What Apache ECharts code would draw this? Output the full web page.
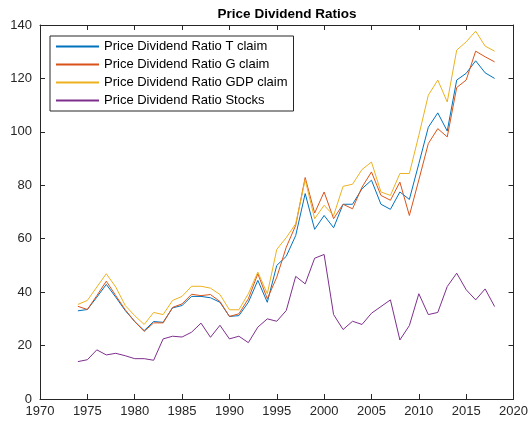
<!DOCTYPE html>
<html>
<head>
<meta charset="utf-8">
<script src="https://cdn.jsdelivr.net/npm/echarts@6/dist/echarts.min.js"></script>
<style>
    html, body { margin: 0; padding: 0; background: #fff; }
    #chart { width: 531px; height: 427px; }
</style>
</head>
<body>
<div id="chart"></div>
<script>
    // yearly values
    var years = [1974, 1975, 1976, 1977, 1978, 1979, 1980, 1981, 1982, 1983,
                 1984, 1985, 1986, 1987, 1988, 1989, 1990, 1991, 1992, 1993,
                 1994, 1995, 1996, 1997, 1998, 1999, 2000, 2001, 2002, 2003,
                 2004, 2005, 2006, 2007, 2008, 2009, 2010, 2011, 2012, 2013,
                 2014, 2015, 2016, 2017, 2018];
    var tClaim = [33.0, 33.5, 38.1, 42.9, 38.1, 33.1, 29.0, 25.6, 29.0, 28.7,
                  34.1, 35.0, 38.4, 38.4, 37.9, 36.2, 30.9, 31.2, 36.2, 44.4,
                  36.2, 50.0, 53.4, 61.2, 76.9, 63.5, 68.7, 64.1, 72.9, 72.9,
                  78.7, 81.9, 72.9, 71.0, 77.5, 74.7, 88.1, 101.7, 107.1, 100.3,
                  119.4, 121.9, 126.6, 122.1, 120.0];
    var gClaim = [34.7, 33.5, 38.7, 44.1, 38.7, 33.4, 29.0, 25.3, 28.5, 28.5,
                  34.3, 35.6, 39.2, 38.7, 39.1, 36.5, 30.9, 31.9, 37.5, 46.9,
                  37.5, 45.6, 56.8, 65.0, 82.9, 69.6, 77.5, 67.5, 72.9, 71.2,
                  79.3, 85.0, 76.2, 74.4, 81.2, 68.7, 82.0, 95.6, 101.2, 98.1,
                  116.6, 119.4, 130.2, 128.1, 126.2];
    var gdpClaim = [35.4, 36.9, 41.9, 46.9, 41.9, 35.0, 31.2, 27.9, 32.4, 31.6,
                    36.9, 38.4, 42.2, 42.2, 41.5, 39.1, 33.4, 33.4, 39.4, 47.5,
                    39.4, 56.0, 60.4, 65.6, 82.1, 67.5, 72.5, 68.7, 79.6, 80.4,
                    85.9, 88.7, 77.5, 76.2, 84.4, 84.4, 98.7, 113.7, 119.4, 111.2,
                    130.6, 133.7, 137.7, 132.1, 130.2];
    var stocks = [14.0, 14.7, 18.4, 16.5, 17.1, 16.2, 15.1, 15.1, 14.5, 22.5,
                  23.5, 23.2, 25.0, 28.4, 23.1, 27.6, 22.5, 23.5, 21.1, 26.9,
                  30.0, 29.1, 33.1, 45.9, 43.1, 52.7, 54.1, 31.6, 26.0, 29.1,
                  27.9, 32.1, 34.6, 37.1, 22.1, 27.5, 39.4, 31.6, 32.4, 42.1,
                  47.1, 40.9, 37.1, 41.2, 34.6];

    var names = ['Price Dividend Ratio T claim', 'Price Dividend Ratio G claim',
                 'Price Dividend Ratio GDP claim', 'Price Dividend Ratio Stocks'];
    var colors = ['#0072BD', '#D95319', '#EDB120', '#7E2F8E'];
    var font = '"Liberation Sans", Arial, Helvetica, sans-serif';
    var axisColor = '#262626';

    function pairs(vals) {
        return years.map(function (y, i) { return [y, vals[i]]; });
    }

    function mkSeries(name, vals) {
        return {
            name: name,
            type: 'line',
            data: pairs(vals),
            symbol: 'none',
            lineStyle: { width: 1 },
            emphasis: { disabled: true },
            animation: false
        };
    }

    function boxAxis(pos, isX) {
        return {
            type: 'value',
            position: pos,
            min: isX ? 1970 : 0,
            max: isX ? 2020 : 140,
            interval: isX ? 5 : 20,
            axisLine: { show: true, onZero: false, lineStyle: { color: axisColor, width: 1 } },
            axisTick: { show: true, inside: true, length: 5, lineStyle: { color: axisColor } },
            splitLine: { show: false },
            axisLabel: { show: false }
        };
    }

    var xBottom = boxAxis('bottom', true);
    xBottom.axisLabel = {
        show: true, color: axisColor, fontSize: 13, fontFamily: font, margin: 6,
        formatter: function (v) { return String(v); }
    };
    var yLeft = boxAxis('left', false);
    yLeft.axisLabel = {
        show: true, color: axisColor, fontSize: 13, fontFamily: font, margin: 8,
        formatter: function (v) { return String(v); }
    };

    var chart = echarts.init(document.getElementById('chart'), null, { renderer: 'canvas' });
    chart.setOption({
        animation: false,
        color: colors,
        title: {
            text: 'Price Dividend Ratios',
            left: 282,
            textAlign: 'center',
            top: 2,
            textStyle: { fontSize: 13.5, fontWeight: 'bold', color: '#000', fontFamily: font }
        },
        legend: {
            orient: 'vertical',
            left: 50,
            top: 36,
            itemWidth: 43,
            itemHeight: 13,
            itemGap: 5,
            padding: [4, 6, 4, 5],
            borderColor: axisColor,
            borderWidth: 1,
            backgroundColor: '#fff',
            itemStyle: { opacity: 0 },
            textStyle: { fontSize: 13, color: '#000', fontFamily: font },
            data: names
        },
        grid: { left: 40, right: 17, top: 25, bottom: 28 },
        xAxis: [xBottom, boxAxis('top', true)],
        yAxis: [yLeft, boxAxis('right', false)],
        series: [
            mkSeries(names[0], tClaim),
            mkSeries(names[1], gClaim),
            mkSeries(names[2], gdpClaim),
            mkSeries(names[3], stocks)
        ]
    });
</script>
</body>
</html>
